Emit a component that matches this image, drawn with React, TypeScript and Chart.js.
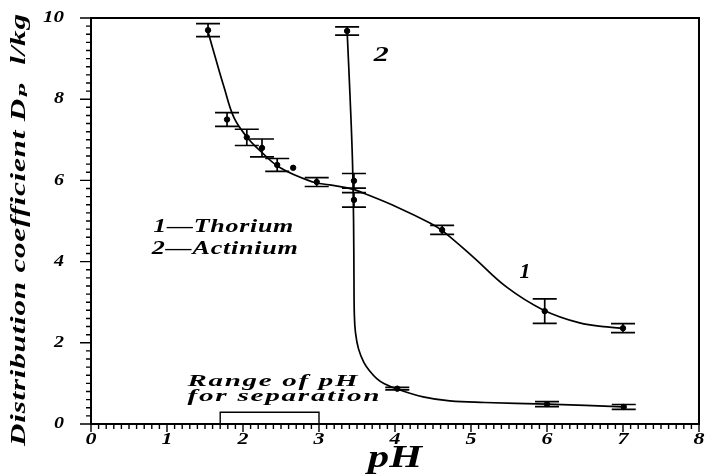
import React, { useEffect, useRef } from "react";
import { Chart, registerables } from "chart.js";
Chart.register(...registerables);

// Measured points (pH, distribution coefficient, error)
const thoriumPH = [1.54, 1.79, 2.05, 2.25, 2.45, 2.66, 2.97, 3.46, 4.62, 5.97, 7.0];
const thoriumD = [9.7, 7.5, 7.06, 6.8, 6.38, 6.31, 5.96, 5.52, 4.78, 2.78, 2.36];
const thoriumErr = [0.16, 0.17, 0.2, 0.22, 0.16, 0, 0.11, 0.18, 0.11, 0.3, 0.11];

const actiniumPH = [3.37, 3.46, 4.03, 6.0, 7.01];
const actiniumD = [9.68, 5.99, 0.87, 0.49, 0.42];
const actiniumErr = [0.1, 0.18, 0.03, 0.06, 0.06];

// Fitted curves
const curve1PH = [1.54, 1.64, 1.75, 1.88, 2.05, 2.22, 2.49, 2.92, 3.14, 3.45, 3.58, 4.03, 4.46, 4.63, 5.03, 5.47, 5.95, 6.43, 6.79, 7.0];
const curve1D = [9.66, 9.0, 8.3, 7.55, 7.07, 6.74, 6.31, 5.96, 5.89, 5.78, 5.69, 5.34, 4.95, 4.75, 4.11, 3.37, 2.81, 2.49, 2.39, 2.36];
const curve2PH = [3.37, 3.41, 3.44, 3.455, 3.46, 3.465, 3.48, 3.52, 3.59, 3.67, 3.76, 3.86, 4.03, 4.37, 4.72, 5.18, 6.0, 7.01];
const curve2D = [9.68, 8.0, 6.5, 5.0, 3.6, 2.7, 2.25, 1.85, 1.52, 1.3, 1.12, 0.99, 0.86, 0.67, 0.57, 0.53, 0.49, 0.42];

// Separation range box
const separationRange = [1.7, 3.0];
const separationHeight = 0.29;

const xTickValues = [0, 1, 2, 3, 4, 5, 6, 7, 8];
const yTickValues = [0, 2, 4, 6, 8, 10];

const FONT = '"Liberation Serif", "DejaVu Serif", serif';

const zip = (xs: number[], ys: number[]) => xs.map((x, i) => ({ x, y: ys[i] }));

export default function App() {
  const ref = useRef<HTMLCanvasElement>(null);
  useEffect(() => {
    const canvas = ref.current!;

    // draws bold italic text stretched horizontally to a target width
    const drawWide = (ctx: any, text: string, x: number, y: number, size: number, target: number, align = "left", spacing = 1) => {
      ctx.font = `italic bold ${size}px ${FONT}`;
      ctx.letterSpacing = `${spacing}px`;
      const w = ctx.measureText(text).width - spacing;
      const sx = target / w;
      ctx.save();
      ctx.translate(x, y);
      ctx.scale(sx, 1);
      ctx.textBaseline = "middle";
      ctx.textAlign = "left";
      const startX = align === "center" ? -w / 2 : align === "right" ? -w : 0;
      ctx.fillText(text, startX, 0);
      ctx.restore();
      ctx.letterSpacing = "0px";
    };

    const decor = {
      id: "decor",
      afterDatasetsDraw(chart: any) {
        const { ctx, chartArea: a, scales } = chart;
        const xs = scales.x, ys = scales.y;
        ctx.save();
        ctx.strokeStyle = "#000";
        ctx.fillStyle = "#000";
        // error bars
        const errSets = [
          [thoriumPH, thoriumD, thoriumErr],
          [actiniumPH, actiniumD, actiniumErr],
        ];
        ctx.lineWidth = 1.7;
        for (const [px, py, pe] of errSets) {
          px.forEach((v: number, i: number) => {
            const e = pe[i];
            if (!e) return;
            const cx = xs.getPixelForValue(v);
            const top = ys.getPixelForValue(py[i] + e);
            const bot = ys.getPixelForValue(py[i] - e);
            ctx.beginPath();
            ctx.moveTo(cx, top); ctx.lineTo(cx, bot);
            ctx.moveTo(cx - 12, top); ctx.lineTo(cx + 12, top);
            ctx.moveTo(cx - 12, bot); ctx.lineTo(cx + 12, bot);
            ctx.stroke();
          });
        }
        // separation box
        ctx.lineWidth = 1.4;
        const bx0 = xs.getPixelForValue(separationRange[0]);
        const bx1 = xs.getPixelForValue(separationRange[1]);
        const by0 = ys.getPixelForValue(0);
        const by1 = ys.getPixelForValue(separationHeight);
        ctx.beginPath();
        ctx.moveTo(bx0, by0); ctx.lineTo(bx0, by1); ctx.lineTo(bx1, by1); ctx.lineTo(bx1, by0);
        ctx.stroke();

        // frame
        ctx.lineWidth = 2;
        ctx.strokeRect(a.left, a.top, a.right - a.left, a.bottom - a.top);
        // ticks
        ctx.lineWidth = 1.4;
        ctx.beginPath();
        for (let i = 0; i <= 80; i++) {
          const p = xs.getPixelForValue(i / 10);
          const len = i % 10 === 0 ? 8 : 5;
          ctx.moveTo(p, a.bottom); ctx.lineTo(p, a.bottom + len);
        }
        for (let i = 0; i <= 50; i++) {
          const p = ys.getPixelForValue(i / 5);
          const len = i % 10 === 0 ? 11 : 5;
          ctx.moveTo(a.left, p); ctx.lineTo(a.left - len, p);
        }
        ctx.stroke();

        // tick labels
        xTickValues.forEach((v) => drawWide(ctx, String(v), xs.getPixelForValue(v), a.bottom + 16, 17, 11, "center", 0));
        yTickValues.forEach((v) => drawWide(ctx, String(v), a.left - 27, ys.getPixelForValue(v), 16, v >= 10 ? 21 : 10, "right", 0));

        // texts
        drawWide(ctx, "1\u2014Thorium", xs.getPixelForValue(0.82), ys.getPixelForValue(4.85), 18, 140, "left", 0.5);
        drawWide(ctx, "2\u2014Actinium", xs.getPixelForValue(0.8), ys.getPixelForValue(4.3), 18, 146, "left", 0.5);
        drawWide(ctx, "Range of pH", xs.getPixelForValue(1.27), ys.getPixelForValue(1.05), 17, 170, "left", 1);
        drawWide(ctx, "for separation", xs.getPixelForValue(1.27), ys.getPixelForValue(0.68), 17, 192, "left", 1);
        drawWide(ctx, "1", xs.getPixelForValue(5.71), ys.getPixelForValue(3.72), 20, 11, "center", 0);
        drawWide(ctx, "2", xs.getPixelForValue(3.82), ys.getPixelForValue(9.09), 22, 15, "center", 0);

        // axis titles
        drawWide(ctx, "pH", (a.left + a.right) / 2, 459, 31, 54, "center", 0);
        ctx.save();
        ctx.translate(20, 230);
        ctx.rotate(-Math.PI / 2);
        drawWide(ctx, "Distribution coefficient D\u209A  l/kg", 0, 0, 21, 432, "center", 0.5);
        ctx.restore();
        ctx.restore();
      },
    };

    const chart = new Chart(canvas, {
      type: "line",
      data: {
        datasets: [
          {
            data: zip(curve1PH, curve1D),
            borderColor: "#000",
            borderWidth: 1.7,
            pointRadius: 0,
            tension: 0.4,
            fill: false,
          },
          {
            data: zip(curve2PH, curve2D),
            borderColor: "#000",
            borderWidth: 1.7,
            pointRadius: 0,
            tension: 0.4,
            fill: false,
          },
          {
            data: zip(thoriumPH, thoriumD),
            showLine: false,
            pointRadius: 2.7,
            pointBackgroundColor: "#000",
            pointBorderColor: "#000",
          },
          {
            data: zip(actiniumPH, actiniumD),
            showLine: false,
            pointRadius: 2.7,
            pointBackgroundColor: "#000",
            pointBorderColor: "#000",
          },
        ],
      } as any,
      options: {
        responsive: false,
        animation: false,
        events: [],
        layout: { padding: { top: 18, right: 8, left: 0, bottom: 0 } },
        plugins: { legend: { display: false }, tooltip: { enabled: false }, title: { display: false } },
        scales: {
          x: {
            type: "linear",
            min: 0,
            max: 8,
            grid: { display: false, drawTicks: false },
            border: { display: false },
            ticks: { display: false, stepSize: 1 },
            afterFit: (s: any) => { s.height = 50; },
          },
          y: {
            type: "linear",
            min: 0,
            max: 10,
            grid: { display: false, drawTicks: false },
            border: { display: false },
            ticks: { display: false, stepSize: 2 },
            afterFit: (s: any) => { s.width = 91; },
          },
        },
      } as any,
      plugins: [decor],
    });
    return () => chart.destroy();
  }, []);

  return (
    <div style={{ position: "absolute", left: 0, top: 0, width: 707, height: 474, background: "#fff" }}>
      <canvas ref={ref} width={707} height={474} style={{ display: "block" }} />
    </div>
  );
}
